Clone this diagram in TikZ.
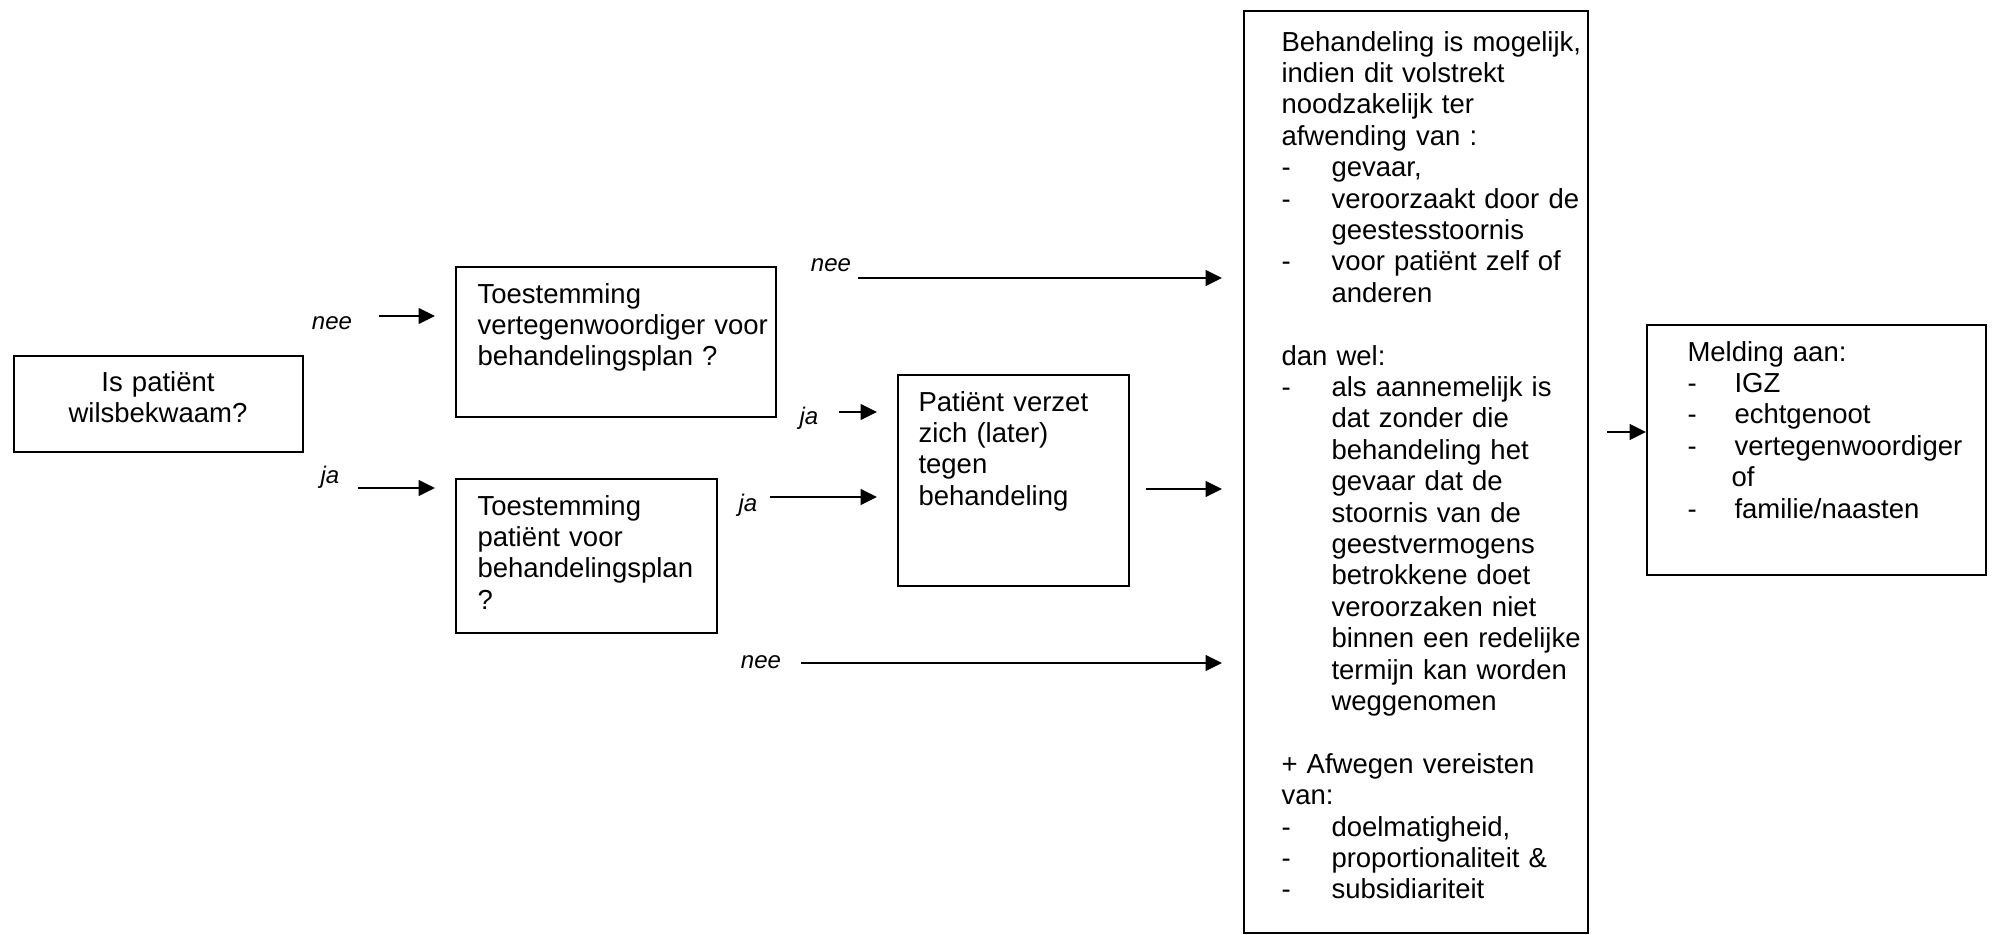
\documentclass[tikz,border=0pt]{standalone}
\usepackage{fontspec}
\setmainfont{Liberation Sans}
\usetikzlibrary{arrows.meta}

\newcommand{\streep}[1][20pt]{\makebox[#1][l]{-}}
\newcommand{\inspring}{\hspace*{20pt}}

\tikzset{
    kader/.style={draw, line width=0.7pt, anchor=north west, inner sep=0pt},
    tekst/.style={font=\fontsize{11pt}{12.56pt}\selectfont, inner sep=0pt, align=left, anchor=base west},
    keuze/.style={font=\fontsize{9.6pt}{11pt}\selectfont\itshape, inner sep=0pt},
    pijl/.style={line width=1.1pt, -{Triangle[length=6.6pt, width=6.2pt]}}
}

\begin{document}
\begin{tikzpicture}[x=0.4pt, y=-0.4pt]
            \useasboundingbox (0, 0) rectangle (1994, 934);

            % kaders
            \node[kader, minimum width=115.6pt, minimum height=38.4pt] (vraag) at (13, 355) {};
            \node[kader, minimum width=128pt, minimum height=60pt] (vertegenw) at (455, 266) {};
            \node[kader, minimum width=104.4pt, minimum height=61.6pt] (patient) at (455, 478) {};
            \node[kader, minimum width=92.4pt, minimum height=84.4pt] (verzet) at (897, 374) {};
            \node[kader, minimum width=137.6pt, minimum height=368.8pt] (behandeling) at (1243, 10) {};
            \node[kader, minimum width=135.6pt, minimum height=100pt] (melding) at (1646, 324) {};

            % teksten
            \node[tekst, align=center, anchor=base, text width=115.6pt] (vraag-t) at (158, 391)
                {Is patiënt\\wilsbekwaam?};
            \node[tekst, text width=118pt] (vertegenw-t) at (477, 303)
                {Toestemming\\vertegenwoordiger voor\\behandelingsplan ?};
            \node[tekst, text width=94pt] (patient-t) at (477, 515)
                {Toestemming\\patiënt voor\\behandelingsplan\\?};
            \node[tekst, text width=82pt] (verzet-t) at (918, 411)
                {Patiënt verzet\\zich (later)\\tegen\\behandeling};
            \node[tekst, text width=122pt] (behandeling-t) at (1281, 51)
                {Behandeling is mogelijk,\\
                indien dit volstrekt\\
                noodzakelijk ter\\
                afwending van :\\
                \streep gevaar,\\
                \streep veroorzaakt door de\\
                \inspring geestesstoornis\\
                \streep voor patiënt zelf of\\
                \inspring anderen\\[12.56pt]
                dan wel:\\
                \streep als aannemelijk is\\
                \inspring dat zonder die\\
                \inspring behandeling het\\
                \inspring gevaar dat de\\
                \inspring stoornis van de\\
                \inspring geestvermogens\\
                \inspring betrokkene doet\\
                \inspring veroorzaken niet\\
                \inspring binnen een redelijke\\
                \inspring termijn kan worden\\
                \inspring weggenomen\\[12.56pt]
                + Afwegen vereisten\\
                van:\\
                \streep doelmatigheid,\\
                \streep proportionaliteit \&\\
                \streep subsidiariteit};
            \node[tekst, text width=120pt] (melding-t) at (1687, 361)
                {Melding aan:\\
                \streep[18.8pt]IGZ\\
                \streep[18.8pt]echtgenoot\\
                \streep[18.8pt]vertegenwoordiger\\
                \hspace*{17.6pt}of\\
                \streep[18.8pt]familie/naasten};

            % keuzes
            \node[keuze] (nee1) at (332, 323) {nee};
            \node[keuze] (ja1) at (330, 477) {ja};
            \node[keuze] (nee2) at (831, 265) {nee};
            \node[keuze] (ja2) at (809, 418) {ja};
            \node[keuze] (ja3) at (748, 505) {ja};
            \node[keuze] (nee3) at (761, 662) {nee};

            % pijlen
            \coordinate (nee1-a) at (379, 316);
            \coordinate (nee1-b) at (435, 316);
            \coordinate (ja1-a) at (358, 488);
            \coordinate (ja1-b) at (435, 488);
            \coordinate (nee2-a) at (858, 278);
            \coordinate (nee2-b) at (1222, 278);
            \coordinate (ja2-a) at (839, 412);
            \coordinate (ja2-b) at (877, 412);
            \coordinate (ja3-a) at (770, 497);
            \coordinate (ja3-b) at (877, 497);
            \coordinate (verzet-a) at (1146, 489);
            \coordinate (verzet-b) at (1222, 489);
            \coordinate (nee3-a) at (801, 663);
            \coordinate (nee3-b) at (1222, 663);
            \coordinate (melding-a) at (1607, 432);

            \draw[pijl] (nee1-a) -- (nee1-b);
            \draw[pijl] (ja1-a) -- (ja1-b);
            \draw[pijl] (nee2-a) -- (nee2-b);
            \draw[pijl] (ja2-a) -- (ja2-b);
            \draw[pijl] (ja3-a) -- (ja3-b);
            \draw[pijl] (verzet-a) -- (verzet-b);
            \draw[pijl] (nee3-a) -- (nee3-b);
            \draw[pijl] (melding-a) -- (melding-a -| melding.west);
\end{tikzpicture}
\end{document}
